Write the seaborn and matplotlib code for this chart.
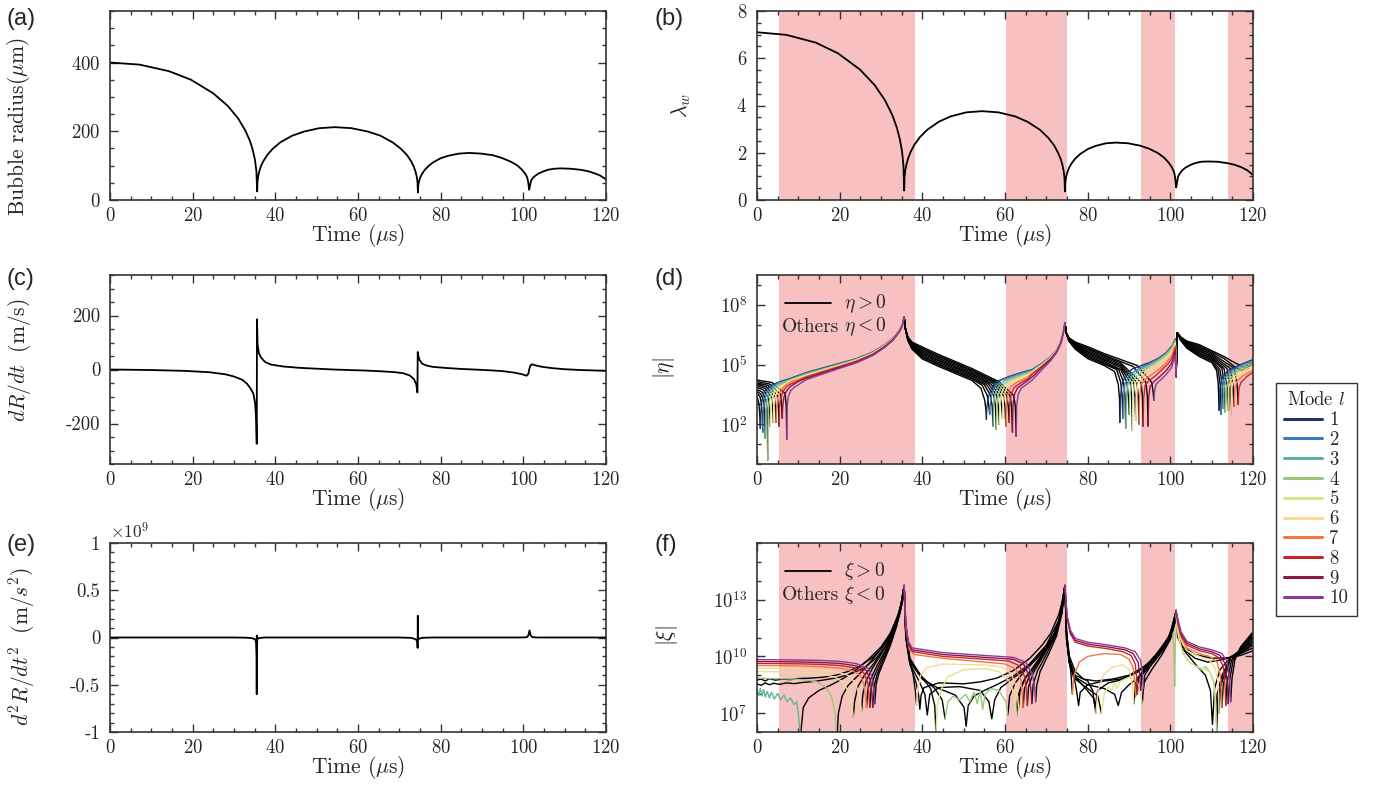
import pandas as pd
import matplotlib
matplotlib.use('Agg')
import matplotlib.pyplot as plt
from matplotlib.lines import Line2D
from matplotlib.ticker import MultipleLocator, NullFormatter
import seaborn as sns

# ---------------- data ----------------
# (a) bubble radius (um) and (b) lambda_w
t_R = [0, 7.12, 14.24, 19.58, 24.92, 28.48, 30.97, 32.75, 33.82, 34.53, 35.07, 35.42, 35.6,
       35.69, 35.88, 36.16, 36.54, 37.1, 38.04, 39.36, 41.24, 44.06, 46.88, 50.64, 54.4,
       58.42, 62.44, 65.46, 68.47, 70.48, 71.89, 72.89, 73.5, 73.9, 74.2, 74.4, 74.5,
       74.56, 74.69, 74.87, 75.12, 75.49, 76.11, 76.98, 78.22, 80.08, 81.94, 84.42, 86.9,
       89.8, 92.7, 94.88, 97.05, 98.5, 99.52, 100.24, 100.68, 100.97, 101.18, 101.33, 101.4,
       101.47, 101.56, 101.68, 101.82, 102.01, 102.39, 102.92, 103.68, 104.82, 105.96, 107.48, 109,
       111.4, 113.8, 115.6, 117.4, 118.6, 120]
R_um = [400, 394, 375, 350, 311, 274, 238, 202, 173, 146, 117, 84, 25,
        54, 71, 85, 99, 113, 131, 149, 168, 187, 199, 209, 212,
        209, 199, 187, 167, 148, 130, 112, 97, 83, 69, 52, 22,
        40, 50, 59, 67, 76, 87, 98, 110, 122, 129, 135, 137,
        135, 130, 122, 111, 101, 90, 80, 72, 64, 52, 38, 30,
        33, 38, 45, 54, 59, 65, 71, 77, 83, 88, 91, 92,
        91, 88, 84, 77, 71, 60]
lam_w = [7.10, 6.99, 6.66, 6.21, 5.52, 4.86, 4.22, 3.59, 3.07, 2.59, 2.08, 1.49, 0.40,
         0.97, 1.26, 1.51, 1.75, 2.01, 2.33, 2.65, 2.98, 3.32, 3.54, 3.71, 3.76,
         3.71, 3.54, 3.31, 2.97, 2.63, 2.31, 1.98, 1.72, 1.48, 1.22, 0.92, 0.36,
         0.71, 0.89, 1.05, 1.19, 1.36, 1.55, 1.75, 1.95, 2.16, 2.29, 2.40, 2.43,
         2.40, 2.30, 2.17, 1.98, 1.79, 1.60, 1.42, 1.27, 1.13, 0.92, 0.67, 0.53,
         0.59, 0.67, 0.80, 0.95, 1.04, 1.15, 1.26, 1.37, 1.48, 1.56, 1.62, 1.63,
         1.62, 1.56, 1.49, 1.37, 1.26, 1.06]

# (c) wall velocity (m/s)
t_v = [0, 10, 18, 24, 28, 30, 32, 33.1, 34.0, 34.7, 35.1, 35.35, 35.5,
       35.56, 35.7, 36.0, 36.5, 37.5, 39, 42, 46, 50, 54,
       58, 62, 66, 69, 71, 72.5, 73.5, 74.1, 74.38,
       74.45, 74.6, 74.9, 75.5, 76.5, 78, 81, 85, 88,
       92, 95, 98, 99.8, 100.8, 101.2, 101.5,
       101.8, 102.2, 103, 104.5, 107, 110, 114, 118, 120]
dRdt = [0, -2, -5, -10, -18, -26, -38, -52, -70, -90, -125, -180, -275,
        186, 95, 62, 45, 28, 18, 11, 6, 3, 0,
        -2, -4, -7, -10, -14, -22, -35, -55, -85,
        65, 50, 35, 22, 15, 10, 6, 2, 0,
        -3, -6, -12, -18, -23, -16, 5,
        17, 19, 15, 10, 5, 1, -2, -4, -5]

# (e) wall acceleration (x1e9 m/s^2)
t_acc = [0, 30, 33, 34.5, 35.1, 35.35, 35.47, 35.5, 35.53, 35.57, 35.6, 35.65, 35.8, 36.3, 37.5,
         70, 73, 74.0, 74.35, 74.42, 74.47, 74.52, 74.6, 74.9, 75.6, 78,
         99.5, 100.8, 101.2, 101.5, 101.8, 102.2, 103.5, 120]
acc_1e9 = [0, 0, -0.002, -0.008, -0.02, -0.05, -0.2, -0.6, 0.02, -0.42, -0.05, -0.02, -0.01, -0.004, 0,
           0, -0.004, -0.02, -0.04, -0.11, 0.23, -0.03, -0.02, -0.01, -0.003, 0,
           0, 0.003, 0.02, 0.075, 0.02, 0.003, 0, 0]

# shaded intervals (us)
span_start = [5.4, 60.3, 92.9, 114.0]
span_end = [38.2, 75.0, 101.1, 120.0]

mode_labels = ['1', '2', '3', '4', '5', '6', '7', '8', '9', '10']
mode_colors = ['#1c3668', '#3a7bbf', '#5cb592', '#9cc77a', '#dfe48c',
               '#fbd996', '#f2793b', '#c7262c', '#8b1745', '#8b3a9b']

# (d) log10|eta| per mode: runs alternate sign, first run eta>0
eta_first_sign = [1, 1, 1, 1, 1, 1, 1, 1, 1, 1]
eta_l1 = [
    [(0, 3.40), (0.45, 3.05), (0.68, 2.5), (0.8, 1.8)],
    [(0.92, 2.6), (1.2, 3.2), (1.8, 3.65), (3, 3.9), (5, 4.1), (8, 4.30), (12, 4.60), (16, 4.83), (20, 5.06), (24, 5.29), (28, 5.63), (31, 6.01), (33, 6.35), (34.5, 6.73), (35.2, 7.02), (35.6, 7.4)],
    [(35.9, 6.8), (36.5, 6.21), (37.5, 5.77), (40, 5.28), (44, 4.9), (48, 4.55), (52, 4.2), (54.2, 3.8), (55.1, 3.2), (55.4, 2.7), (55.5, 2.25)],
    [(55.6, 2.8), (55.9, 3.3), (56.6, 3.75), (58, 4.15), (61, 4.4), (64, 4.6), (66.6, 4.75), (69, 5.07), (71, 5.39), (72.5, 5.73), (73.5, 6.15), (74.1, 6.62), (74.5, 7.1)],
    [(74.8, 6.6), (75.5, 6.16), (77, 5.77), (80, 5.3), (84, 4.95), (86.5, 4.65), (87.4, 4.0), (87.7, 3.3), (87.8, 2.1)],
    [(87.9, 3.3), (88.3, 4.0), (89.2, 4.5), (91, 4.8), (95, 5.1), (97, 5.3), (99, 5.6), (100.5, 5.95), (101.2, 6.3), (101.4, 4.7)],
    [(101.7, 6.6), (102.5, 6.21), (104, 5.82), (107, 5.4), (110, 5.1), (111.2, 4.7), (111.6, 4.0), (111.8, 2.7)],
    [(112.0, 3.8), (112.5, 4.3), (114, 4.7), (117, 5.0), (120, 5.25)],
]
eta_l2 = [
    [(0, 3.55), (0.7, 3.4), (1.0, 3.1), (1.28, 2.55), (1.4, 1.6)],
    [(1.52, 2.6), (1.8, 3.2), (2.4, 3.6), (3.5, 3.85), (5, 4.07), (8, 4.27), (12, 4.57), (16, 4.80), (20, 5.03), (24, 5.27), (28, 5.61), (31, 6.0), (33, 6.34), (34.5, 6.72), (35.2, 7.01), (35.6, 7.4)],
    [(35.9, 6.8), (36.5, 6.23), (37.5, 5.81), (40, 5.35), (44, 4.97), (48, 4.62), (52, 4.27), (54.5, 3.95), (55.7, 3.45), (56.1, 2.9), (56.3, 2.5)],
    [(56.45, 3.0), (56.8, 3.5), (57.5, 3.9), (59, 4.2), (61.5, 4.4), (64, 4.57), (66.6, 4.72), (69, 5.05), (71, 5.37), (72.5, 5.72), (73.5, 6.14), (74.1, 6.62), (74.5, 7.1)],
    [(74.8, 6.6), (75.5, 6.18), (77, 5.81), (80, 5.37), (84, 5.02), (87, 4.75), (88.0, 4.1), (88.35, 3.4), (88.5, 2.3)],
    [(88.65, 3.3), (89.0, 4.0), (90, 4.45), (92, 4.75), (95, 5.05), (97, 5.27), (99, 5.57), (100.5, 5.92), (101.2, 6.25), (101.4, 4.7)],
    [(101.7, 6.6), (102.5, 6.23), (104, 5.86), (107, 5.47), (110, 5.17), (111.6, 4.7), (112.1, 3.9), (112.3, 2.5)],
    [(112.5, 3.8), (113, 4.3), (114.5, 4.65), (117, 4.95), (120, 5.2)],
]
eta_l3 = [
    [(0, 3.65), (1.0, 3.5), (1.6, 3.15), (1.88, 2.6), (2.0, 1.3)],
    [(2.12, 2.6), (2.4, 3.2), (3.0, 3.6), (4, 3.85), (5.5, 4.05), (8, 4.24), (12, 4.54), (16, 4.78), (20, 5.01), (24, 5.25), (28, 5.6), (31, 5.99), (33, 6.33), (34.5, 6.72), (35.2, 7.01), (35.6, 7.4)],
    [(35.9, 6.8), (36.5, 6.25), (37.5, 5.85), (40, 5.41), (44, 5.03), (48, 4.68), (52, 4.33), (55, 3.98), (56.5, 3.45), (56.9, 2.9), (57.1, 1.9)],
    [(57.25, 3.0), (57.6, 3.5), (58.3, 3.9), (60, 4.2), (62.5, 4.4), (64.5, 4.55), (66.6, 4.69), (69, 5.03), (71, 5.36), (72.5, 5.71), (73.5, 6.13), (74.1, 6.61), (74.5, 7.1)],
    [(74.8, 6.6), (75.5, 6.2), (77, 5.85), (80, 5.43), (84, 5.08), (87.5, 4.75), (88.7, 4.1), (89.05, 3.4), (89.2, 1.8)],
    [(89.35, 3.3), (89.7, 4.0), (90.7, 4.4), (92.5, 4.7), (95, 4.98), (97, 5.22), (99, 5.53), (100.5, 5.88), (101.2, 6.2), (101.4, 4.65)],
    [(101.7, 6.6), (102.5, 6.25), (104, 5.9), (107, 5.53), (110, 5.23), (112, 4.75), (112.6, 3.9), (112.8, 2.8)],
    [(113, 3.8), (113.5, 4.25), (115, 4.6), (117.5, 4.9), (120, 5.15)],
]
eta_l4 = [
    [(0, 3.75), (1.3, 3.6), (2.2, 3.2), (2.48, 2.6), (2.6, 0.2)],
    [(2.72, 2.6), (3.0, 3.2), (3.6, 3.6), (4.6, 3.85), (6, 4.02), (8, 4.21), (12, 4.51), (16, 4.75), (20, 4.99), (24, 5.24), (28, 5.58), (31, 5.97), (33, 6.32), (34.5, 6.71), (35.2, 7.01), (35.6, 7.4)],
    [(35.9, 6.8), (36.5, 6.27), (37.5, 5.89), (40, 5.48), (44, 5.1), (48, 4.75), (52, 4.4), (55.5, 4.0), (57.3, 3.45), (57.7, 2.9), (57.9, 1.75)],
    [(58.05, 3.0), (58.4, 3.5), (59.1, 3.9), (60.8, 4.2), (63, 4.38), (65, 4.52), (66.6, 4.66), (69, 5.01), (71, 5.35), (72.5, 5.7), (73.5, 6.12), (74.1, 6.61), (74.5, 7.1)],
    [(74.8, 6.6), (75.5, 6.22), (77, 5.89), (80, 5.5), (84, 5.15), (88, 4.75), (89.5, 4.1), (89.85, 3.4), (90.0, 2.5)],
    [(90.15, 3.3), (90.5, 4.0), (91.5, 4.35), (93, 4.62), (95, 4.9), (97, 5.17), (99, 5.48), (100.5, 5.83), (101.2, 6.15), (101.4, 4.6)],
    [(101.7, 6.6), (102.5, 6.27), (104, 5.94), (107, 5.6), (110, 5.3), (112.5, 4.8), (113.1, 3.9), (113.3, 2.6)],
    [(113.5, 3.8), (114, 4.2), (115.5, 4.55), (118, 4.85), (120, 5.05)],
]
eta_l5 = [
    [(0, 3.85), (1.6, 3.72), (2.8, 3.3), (3.08, 2.7), (3.2, 1.9)],
    [(3.32, 2.7), (3.6, 3.25), (4.2, 3.62), (5.2, 3.85), (6.5, 4.0), (8, 4.18), (12, 4.48), (16, 4.73), (20, 4.97), (24, 5.22), (28, 5.57), (31, 5.96), (33, 6.31), (34.5, 6.71), (35.2, 7.0), (35.6, 7.4)],
    [(35.9, 6.8), (36.5, 6.29), (37.5, 5.93), (40, 5.55), (44, 5.17), (48, 4.82), (52, 4.47), (56, 4.03), (58.0, 3.45), (58.4, 2.9), (58.6, 2.0)],
    [(58.75, 3.0), (59.1, 3.5), (59.8, 3.9), (61.5, 4.17), (63.5, 4.34), (65.5, 4.5), (66.6, 4.63), (69, 4.99), (71, 5.33), (72.5, 5.69), (73.5, 6.11), (74.1, 6.6), (74.5, 7.1)],
    [(74.8, 6.6), (75.5, 6.24), (77, 5.93), (80, 5.57), (84, 5.22), (88, 4.85), (90.3, 4.1), (90.65, 3.4), (90.8, 1.7)],
    [(90.95, 3.3), (91.3, 4.0), (92.3, 4.3), (94, 4.57), (96, 4.85), (98, 5.15), (99.5, 5.45), (100.7, 5.8), (101.2, 6.1), (101.4, 4.6)],
    [(101.7, 6.6), (102.5, 6.29), (104, 5.98), (107, 5.67), (110, 5.37), (113, 4.8), (113.7, 3.9), (113.9, 2.7)],
    [(114.1, 3.8), (114.6, 4.2), (116, 4.5), (118.5, 4.8), (120, 4.95)],
]
eta_l6 = [
    [(0, 3.93), (2.0, 3.8), (3.5, 3.35), (3.78, 2.8), (3.9, 2.1)],
    [(4.02, 2.8), (4.3, 3.3), (4.9, 3.65), (5.9, 3.87), (8, 4.15), (12, 4.45), (16, 4.70), (20, 4.95), (24, 5.20), (28, 5.55), (31, 5.95), (33, 6.30), (34.5, 6.70), (35.2, 7.0), (35.6, 7.4)],
    [(35.9, 6.8), (36.5, 6.31), (37.5, 5.97), (40, 5.61), (44, 5.23), (48, 4.88), (52, 4.53), (56.5, 4.05), (58.8, 3.45), (59.2, 2.9), (59.4, 2.3)],
    [(59.55, 3.0), (59.9, 3.5), (60.6, 3.9), (62.3, 4.15), (64.3, 4.32), (66.6, 4.6), (69, 4.97), (71, 5.31), (72.5, 5.68), (73.5, 6.1), (74.1, 6.6), (74.5, 7.1)],
    [(74.8, 6.6), (75.5, 6.26), (77, 5.97), (80, 5.63), (84, 5.28), (88, 4.92), (91.1, 4.1), (91.45, 3.4), (91.6, 2.2)],
    [(91.75, 3.3), (92.1, 4.0), (93.1, 4.28), (95, 4.55), (97, 4.85), (98.8, 5.15), (100.2, 5.5), (101.2, 6.05), (101.4, 4.55)],
    [(101.7, 6.6), (102.5, 6.31), (104, 6.02), (107, 5.73), (110, 5.43), (113.7, 4.8), (114.4, 3.9), (114.6, 2.5)],
    [(114.8, 3.8), (115.3, 4.2), (116.8, 4.5), (119, 4.75), (120, 4.85)],
]
eta_l7 = [
    [(0, 4.00), (2.3, 3.88), (4.2, 3.4), (4.48, 2.8), (4.6, 2.1)],
    [(4.72, 2.8), (5.0, 3.3), (5.6, 3.65), (6.6, 3.9), (8, 4.11), (12, 4.41), (16, 4.67), (20, 4.92), (24, 5.18), (28, 5.53), (31, 5.93), (33, 6.29), (34.5, 6.69), (35.2, 7.0), (35.6, 7.4)],
    [(35.9, 6.8), (36.5, 6.33), (37.5, 6.01), (40, 5.68), (44, 5.3), (48, 4.95), (52, 4.6), (57, 4.08), (59.6, 3.45), (60.0, 2.9), (60.2, 1.9)],
    [(60.35, 3.0), (60.7, 3.5), (61.4, 3.9), (63, 4.12), (65, 4.3), (66.6, 4.56), (69, 4.94), (71, 5.29), (72.5, 5.66), (73.5, 6.09), (74.1, 6.59), (74.5, 7.1)],
    [(74.8, 6.6), (75.5, 6.28), (77, 6.01), (80, 5.7), (84, 5.35), (88, 5.0), (91.9, 4.1), (92.25, 3.4), (92.4, 2.0)],
    [(92.55, 3.3), (92.9, 4.0), (93.9, 4.25), (95.5, 4.5), (97.5, 4.8), (99, 5.1), (100.3, 5.45), (101.2, 5.95), (101.4, 4.5)],
    [(101.7, 6.6), (102.5, 6.33), (104, 6.06), (107, 5.8), (110, 5.5), (114.5, 4.8), (115.2, 3.9), (115.4, 2.9)],
    [(115.6, 3.8), (116.1, 4.15), (117.6, 4.45), (120, 4.7)],
]
eta_l8 = [
    [(0, 4.07), (2.7, 3.95), (4.9, 3.45), (5.18, 2.85), (5.3, 1.9)],
    [(5.42, 2.85), (5.7, 3.3), (6.3, 3.65), (7.2, 3.9), (8, 4.0), (12, 4.37), (16, 4.63), (20, 4.89), (24, 5.15), (28, 5.51), (31, 5.92), (33, 6.28), (34.5, 6.68), (35.2, 6.99), (35.6, 7.4)],
    [(35.9, 6.8), (36.5, 6.35), (37.5, 6.05), (40, 5.75), (44, 5.37), (48, 5.02), (52, 4.67), (57.5, 4.1), (60.4, 3.45), (60.8, 2.9), (61.0, 2.1)],
    [(61.15, 3.0), (61.5, 3.5), (62.2, 3.85), (63.8, 4.08), (65.5, 4.27), (66.6, 4.52), (69, 4.91), (71, 5.27), (72.5, 5.65), (73.5, 6.08), (74.1, 6.58), (74.5, 7.1)],
    [(74.8, 6.6), (75.5, 6.3), (77, 6.05), (80, 5.77), (84, 5.42), (88, 5.08), (92.9, 4.1), (93.25, 3.4), (93.4, 1.9)],
    [(93.55, 3.3), (93.9, 3.95), (94.9, 4.2), (96.5, 4.45), (98, 4.75), (99.5, 5.05), (100.5, 5.35), (101.2, 5.85), (101.4, 4.5)],
    [(101.7, 6.6), (102.5, 6.35), (104, 6.1), (107, 5.87), (110, 5.57), (115.5, 4.8), (116.2, 3.9), (116.4, 3.0)],
    [(116.6, 3.8), (117.1, 4.1), (118.5, 4.4), (120, 4.6)],
]
eta_l9 = [
    [(0, 4.14), (3.1, 4.02), (5.7, 3.5), (5.98, 2.9), (6.1, 2.3)],
    [(6.22, 2.9), (6.5, 3.35), (7.1, 3.65), (8, 3.88), (10, 4.15), (12, 4.32), (16, 4.59), (20, 4.86), (24, 5.12), (28, 5.49), (31, 5.9), (33, 6.26), (34.5, 6.67), (35.2, 6.99), (35.6, 7.4)],
    [(35.9, 6.8), (36.5, 6.37), (37.5, 6.09), (40, 5.81), (44, 5.43), (48, 5.08), (52, 4.73), (58, 4.12), (61.2, 3.45), (61.6, 2.9), (61.8, 1.6)],
    [(61.95, 3.0), (62.3, 3.5), (63, 3.82), (64.5, 4.05), (66, 4.28), (67, 4.45), (69, 4.87), (71, 5.24), (72.5, 5.63), (73.5, 6.07), (74.1, 6.58), (74.5, 7.1)],
    [(74.8, 6.6), (75.5, 6.32), (77, 6.09), (80, 5.83), (84, 5.48), (88, 5.15), (91, 4.9), (94.1, 4.1), (94.45, 3.4), (94.6, 1.9)],
    [(94.75, 3.3), (95.1, 3.9), (96.1, 4.15), (97.5, 4.4), (99, 4.7), (100.3, 5.05), (101.2, 5.7), (101.4, 4.45)],
    [(101.7, 6.6), (102.5, 6.37), (104, 6.14), (107, 5.93), (110, 5.63), (113, 5.3), (115.5, 4.9), (117.5, 4.7), (119, 4.85), (120, 5.2)],
]
eta_l10 = [
    [(0, 4.22), (3.6, 4.1), (6.8, 3.55), (7.08, 2.95), (7.2, 1.25)],
    [(7.32, 2.95), (7.6, 3.4), (8.2, 3.7), (9, 3.85), (12, 4.25), (16, 4.53), (20, 4.81), (24, 5.08), (28, 5.45), (31, 5.87), (33, 6.24), (34.5, 6.66), (35.2, 6.98), (35.6, 7.4)],
    [(35.9, 6.8), (36.5, 6.39), (37.5, 6.13), (40, 5.88), (44, 5.5), (48, 5.15), (52, 4.8), (58.5, 4.14), (62.1, 3.45), (62.5, 2.9), (62.7, 1.4)],
    [(62.85, 3.0), (63.2, 3.5), (63.9, 3.8), (65.2, 4.0), (66.6, 4.22), (69, 4.75), (71, 5.18), (72.5, 5.6), (73.5, 6.05), (74.1, 6.57), (74.5, 7.1)],
    [(74.8, 6.6), (75.5, 6.34), (77, 6.13), (80, 5.9), (84, 5.55), (88, 5.25), (92, 4.95), (95.5, 4.1), (95.85, 3.6), (96.0, 3.2)],
    [(96.15, 3.6), (96.5, 4.0), (97.5, 4.2), (99, 4.5), (100.3, 4.85), (101.2, 5.45), (101.4, 4.35)],
    [(101.7, 6.6), (102.5, 6.39), (104, 6.18), (107, 6.0), (110, 5.7), (113, 5.4), (115.5, 5.1), (118, 4.85), (119.3, 4.95), (120, 5.1)],
]

# (f) log10|xi| per mode: runs alternate sign, first sign listed
xi_first_sign = [1, 1, -1, -1, -1, -1, -1, -1, -1, -1]
xi_l1 = [
    [(0, 8.55), (1, 8.47), (2, 8.6), (3, 8.5), (4, 8.58), (5.5, 8.52), (7, 8.6), (9, 8.56), (11, 8.62), (14, 8.68), (17, 8.78), (20, 8.9), (23, 9.1), (26, 9.4), (29, 9.95), (31, 10.5), (33, 11.3), (34.5, 12.2), (35.2, 12.9), (35.6, 13.75),
     (36, 11.0), (37, 9.6), (38.5, 8.6), (39.1, 7.95), (39.4, 7.2), (39.7, 7.95), (40.4, 8.35), (44, 8.6), (50, 8.55), (54, 8.65), (58, 8.85), (62, 9.25), (66, 9.9), (69, 10.6), (71, 11.2), (73, 12.2), (74, 13.0), (74.5, 13.75),
     (74.9, 11.2), (75.6, 10.0), (77, 9.2), (79, 8.8), (82, 8.7), (86, 8.8), (90, 9.0), (94, 9.5), (97, 10.2), (99.5, 11.0), (101, 11.8), (101.4, 12.1),
     (101.8, 11.0), (103, 10.5), (106, 10.1), (110, 9.9), (113, 9.92), (114.6, 9.95), (117, 10.05), (120, 10.3)],
]
xi_l2 = [
    [(0, 8.75), (1, 8.8), (2, 8.7), (3, 8.82), (4.5, 8.74), (6, 8.8), (8, 8.77), (10, 8.83), (13, 8.85), (16, 8.9), (19, 9.0), (22, 9.2), (25, 9.5), (28, 9.95), (30.5, 10.5), (32.5, 11.2), (34.3, 12.2), (35.1, 12.9), (35.6, 13.75),
     (36, 11.0), (37, 9.6), (39.2, 8.7), (40.6, 8.0), (41.2, 6.9), (41.8, 8.0), (44, 8.35), (49, 8.4), (54, 8.2), (56.1, 7.6), (56.8, 6.7), (57.5, 7.7), (59, 8.35), (62, 8.85), (66, 9.5), (69.5, 10.3), (72.5, 11.3), (73.8, 12.4), (74.5, 13.75),
     (74.9, 10.9), (75.6, 9.7), (77, 9.0), (80, 8.7), (81.2, 8.2), (81.8, 7.3), (82.4, 8.2), (85, 8.6), (88, 8.75), (92, 9.15), (95, 9.65), (98, 10.35), (100.3, 11.15), (101.4, 11.95),
     (101.8, 11.1), (103, 10.4), (106, 9.9), (109, 9.7), (112, 9.8), (114.6, 9.95), (117, 10.15), (120, 10.45)],
]
xi_l3 = [
    [(0, 8.2), (0.4, 7.95), (0.8, 8.3), (1.2, 7.9), (1.6, 8.25), (2.0, 7.85), (2.5, 8.15), (3.0, 7.8), (3.5, 8.1), (4.2, 7.75), (5, 8.05), (5.7, 7.7), (6.5, 7.95), (7.3, 7.6), (8.1, 7.8), (9.0, 7.45), (9.6, 7.6), (10.0, 7.0), (10.3, 6.2), (10.5, 5.5)],
    [(10.7, 6.2), (11.2, 7.3), (12.5, 7.8), (15, 8.2), (18, 8.5), (21, 8.85), (24, 9.3), (27, 9.85), (30, 10.5), (32.5, 11.3), (34.3, 12.3), (35.1, 12.95), (35.6, 13.75),
     (36, 11.1), (37, 9.7), (40, 8.8), (44, 8.3), (48, 7.95), (50.1, 7.3), (50.6, 6.3), (51.1, 7.4), (52.5, 7.9), (55, 8.2), (58, 8.5), (62, 8.95), (66, 9.6), (69.5, 10.4), (72.5, 11.4), (73.8, 12.5), (74.5, 13.75),
     (74.9, 10.9), (75.6, 9.6), (77, 8.6), (77.5, 7.9), (77.8, 7.4), (78.2, 8.1), (80, 8.5), (84, 8.7), (88, 8.8), (92, 9.2), (95, 9.7), (98, 10.4), (100.3, 11.2), (101.4, 12.0),
     (101.8, 11.2), (103, 10.4), (106, 9.6), (108.5, 9.0), (109.7, 8.2), (110.2, 6.4), (110.7, 8.3), (112, 9.3), (114.6, 9.95), (117, 10.15), (120, 10.6)],
]
xi_l4 = [
    [(0, 8.85), (3, 8.83), (6, 8.82), (9, 8.8), (12, 8.75), (14.5, 8.65), (16.5, 8.4), (18.0, 7.9), (18.9, 7.0), (19.3, 5.5)],
    [(19.7, 7.0), (20.6, 7.9), (22, 8.45), (24.5, 9.0), (27, 9.6), (29.5, 10.25), (32, 11.1), (34, 12.1), (35, 12.9), (35.6, 13.75), (36.0, 11.2), (37, 9.8), (40, 8.9), (43, 8.3), (44.8, 7.7), (45.5, 6.7)],
    [(46.2, 7.6), (47.5, 7.9), (49, 7.7), (50.5, 8.0), (51.5, 7.6), (52.5, 8.1), (53.3, 7.5), (54, 8.2), (54.6, 7.2), (55.2, 8.0), (56.5, 8.3), (58.5, 8.2), (60.2, 7.6), (60.7, 6.9)],
    [(61.1, 7.9), (62.5, 8.6), (66, 9.6), (70, 10.6), (73, 11.9), (74.5, 13.75), (74.9, 11.0), (75.5, 9.7), (77, 8.9), (80, 8.5), (84, 8.3), (86.5, 8.0), (87.4, 7.4), (88.2, 8.1), (90, 8.5), (93, 9.0), (96, 9.7), (98.5, 10.4), (100.6, 11.2)],
    [(100.9, 10.0), (101.05, 8.4), (101.2, 10.6), (101.5, 11.9), (102, 11.0), (103, 10.2), (104.5, 9.7), (106, 9.5), (107.5, 9.3), (108.5, 9.45), (109.5, 9.2), (110.5, 8.7), (111.0, 7.5), (111.2, 6.0)],
    [(111.5, 7.8), (112.8, 9.0), (114.6, 9.97), (117, 10.2), (120, 10.7)],
]
xi_l5 = [
    [(0, 9.2), (4, 9.19), (8, 9.17), (12, 9.13), (16, 9.05), (19, 8.9), (21, 8.6), (22.4, 8.0), (23.0, 7.3), (23.3, 6.8)],
    [(23.6, 7.6), (24.4, 8.4), (26, 9.0), (28.5, 9.7), (31, 10.5), (33, 11.3), (34.5, 12.3), (35.6, 13.75), (36.0, 11.3), (37, 9.9), (39.5, 9.0), (42, 8.3), (43.0, 7.4), (43.3, 6.0)],
    [(43.6, 7.4), (44.5, 8.2), (46, 8.9), (50, 9.3), (55, 9.35), (58.5, 9.2), (61, 8.7), (62.2, 8.0), (62.6, 7.3), (62.8, 6.9)],
    [(63.1, 7.9), (64.5, 8.7), (68, 9.8), (71.2, 10.8), (73.3, 12.0), (74.5, 13.75), (74.9, 11.1), (75.5, 9.8), (77, 8.8), (80, 8.3), (82.5, 7.9), (83.3, 7.0)],
    [(84, 8.0), (85, 8.4), (85.8, 8.2), (86.5, 8.6), (87, 8.3), (88, 8.7), (90, 8.9), (91.5, 8.8), (92.5, 8.4), (93.2, 7.5)],
    [(93.6, 8.6), (95.5, 9.3), (98, 10.1), (100, 10.9), (101.4, 12.1)],
    [(101.9, 11.2), (102.6, 10.5), (104, 9.8), (106, 9.5), (108, 9.35), (109.5, 9.2), (110.5, 8.6), (110.9, 7.8), (111.0, 6.6)],
    [(111.3, 8.0), (112.5, 9.0), (114.6, 9.97), (117, 10.25), (120, 10.8)],
]
xi_l6 = [
    [(0, 9.38), (5, 9.37), (10, 9.35), (15, 9.3), (19, 9.2), (22, 9.0), (23.8, 8.6), (24.8, 7.9), (25.1, 7.4), (25.3, 7.1)],
    [(25.6, 8.0), (26.4, 8.7), (28, 9.4), (30, 10.1), (32, 10.9), (34, 12.0), (35.1, 12.9), (35.6, 13.75), (36.0, 11.4), (36.8, 10.0), (37.8, 9.0), (38.3, 8.2), (38.6, 7.4)],
    [(38.9, 8.3), (39.6, 9.0), (41, 9.4), (45, 9.6), (55, 9.55), (59, 9.45), (61.5, 9.1), (62.7, 8.4), (63.1, 7.7), (63.3, 7.3)],
    [(63.6, 8.2), (65, 8.9), (68.5, 9.9), (71.5, 10.9), (73.4, 12.1), (74.5, 13.75), (74.9, 11.2), (75.5, 9.9), (77, 8.9), (79.5, 8.3), (81.4, 7.8), (82.0, 7.0)],
    [(82.5, 8.2), (83.8, 9.0), (86, 9.45), (88.5, 9.55), (90, 9.3), (90.8, 8.5), (91.2, 7.5)],
    [(91.6, 8.6), (93.5, 9.3), (96.5, 10.1), (99.5, 10.95), (101.4, 12.2)],
    [(101.9, 11.5), (102.6, 10.9), (104, 10.3), (107, 10.0), (109.5, 9.8), (110.8, 9.4), (111.6, 8.6), (111.8, 7.0)],
    [(112.1, 8.4), (114.6, 9.95), (117, 10.3), (120, 10.9)],
]
xi_l7 = [
    [(0, 9.52), (5, 9.51), (10, 9.5), (15, 9.46), (20, 9.38), (23, 9.25), (25, 9.0), (25.9, 8.5), (26.3, 7.8), (26.5, 7.3)],
    [(26.8, 8.2), (27.5, 8.8), (29, 9.5), (31, 10.3), (33, 11.3), (34.5, 12.3), (35.6, 13.75)],
    [(36.0, 11.5), (36.8, 10.4), (38, 10.1), (45, 9.9), (55, 9.7), (60, 9.6), (62.5, 9.35), (63.8, 8.8), (64.2, 8.0), (64.4, 7.3)],
    [(64.7, 8.3), (66, 9.0), (69, 10.0), (71.8, 11.0), (73.5, 12.2), (74.5, 13.75), (74.9, 11.3), (75.5, 10.0), (76.0, 9.0), (76.3, 8.0)],
    [(76.7, 9.0), (78, 9.7), (80, 10.0), (84, 10.15), (88, 10.1), (90, 9.85), (91, 9.4), (91.4, 8.6), (91.6, 7.9)],
    [(91.9, 8.8), (94, 9.4), (97, 10.2), (99.8, 11.0), (101.4, 12.3)],
    [(101.9, 11.6), (102.6, 11.0), (104, 10.45), (107, 10.15), (109.5, 10.0), (111.3, 9.7), (112.1, 9.0), (112.4, 7.9), (112.5, 7.3)],
    [(112.8, 8.5), (114.6, 9.95), (117, 10.35), (120, 11.0)],
]
xi_l8 = [
    [(0, 9.63), (5, 9.62), (10, 9.61), (15, 9.58), (20, 9.52), (23.5, 9.4), (25.8, 9.15), (26.8, 8.6), (27.15, 7.8), (27.3, 7.3)],
    [(27.6, 8.3), (28.3, 8.9), (29.7, 9.6), (31.5, 10.45), (33.2, 11.4), (34.6, 12.4), (35.6, 13.75)],
    [(36.0, 11.6), (36.7, 10.6), (37.6, 10.25), (45, 10.0), (55, 9.85), (61, 9.75), (63.5, 9.5), (64.8, 8.9), (65.2, 8.1), (65.4, 7.4)],
    [(65.7, 8.4), (66.8, 9.1), (69.5, 10.1), (72, 11.1), (73.6, 12.3), (74.5, 13.75)],
    [(75.0, 12.0), (75.8, 11.2), (77, 10.75), (80, 10.55), (85, 10.4), (88.5, 10.25), (90.5, 10.05), (91.5, 9.6), (91.85, 8.9), (92.0, 8.0)],
    [(92.3, 8.9), (94.5, 9.5), (97.5, 10.3), (100, 11.1), (101.4, 12.35)],
    [(101.9, 11.7), (102.6, 11.1), (104, 10.6), (107, 10.3), (110, 10.15), (111.6, 9.95), (112.8, 9.5), (113.25, 8.4), (113.4, 7.4)],
    [(113.7, 8.6), (114.8, 9.8), (117, 10.4), (120, 11.1)],
]
xi_l9 = [
    [(0, 9.73), (5, 9.72), (10, 9.71), (15, 9.68), (20, 9.63), (24, 9.5), (26.5, 9.25), (27.5, 8.7), (27.85, 7.9), (28.0, 7.3)],
    [(28.3, 8.4), (29, 9.0), (30.3, 9.7), (32, 10.55), (33.5, 11.5), (34.7, 12.5), (35.6, 13.75)],
    [(36.0, 11.7), (36.6, 10.7), (37.5, 10.35), (45, 10.1), (55, 9.95), (62, 9.85), (64.5, 9.6), (65.8, 9.0), (66.3, 8.2), (66.5, 7.5)],
    [(66.8, 8.5), (67.8, 9.2), (70, 10.1), (72.2, 11.1), (73.7, 12.3), (74.5, 13.75)],
    [(75.0, 12.1), (75.8, 11.3), (77, 10.85), (80, 10.65), (85, 10.5), (89, 10.35), (91, 10.15), (92.2, 9.7), (92.6, 9.0), (92.8, 8.2)],
    [(93.1, 9.0), (95, 9.6), (97.8, 10.35), (100, 11.15), (101.4, 12.4)],
    [(101.9, 11.8), (102.6, 11.2), (104, 10.7), (107, 10.4), (110, 10.25), (112, 10.05), (113.3, 9.6), (113.8, 8.5), (114.0, 7.5)],
    [(114.3, 8.7), (115.2, 9.8), (117, 10.45), (120, 11.2)],
]
xi_l10 = [
    [(0, 9.83), (5, 9.82), (10, 9.81), (15, 9.79), (20, 9.74), (24, 9.62), (27, 9.35), (28, 8.8), (28.35, 8.0), (28.5, 7.5)],
    [(28.8, 8.5), (29.5, 9.1), (30.8, 9.8), (32.3, 10.6), (33.8, 11.6), (34.9, 12.6), (35.6, 13.75)],
    [(36.0, 11.8), (36.6, 10.8), (37.5, 10.45), (45, 10.2), (55, 10.05), (62, 9.95), (65, 9.7), (66.7, 9.0), (67.2, 8.3), (67.4, 7.6)],
    [(67.7, 8.5), (68.5, 9.2), (70.5, 10.1), (72.5, 11.1), (73.8, 12.3), (74.5, 13.75)],
    [(75.0, 12.2), (75.8, 11.4), (77, 10.95), (80, 10.75), (85, 10.6), (89, 10.45), (91.5, 10.25), (92.8, 9.8), (93.3, 9.0), (93.5, 8.3)],
    [(93.8, 9.0), (95.5, 9.6), (98, 10.4), (100, 11.2), (101.4, 12.45)],
    [(101.9, 11.9), (102.6, 11.3), (104, 10.8), (107, 10.5), (110, 10.35), (112.5, 10.15), (113.8, 9.7), (114.4, 8.6), (114.6, 7.6)],
    [(114.9, 8.8), (115.6, 9.8), (117, 10.5), (120, 11.3)],
]

eta_modes = [eta_l1, eta_l2, eta_l3, eta_l4, eta_l5, eta_l6, eta_l7, eta_l8, eta_l9, eta_l10]
xi_modes = [xi_l1, xi_l2, xi_l3, xi_l4, xi_l5, xi_l6, xi_l7, xi_l8, xi_l9, xi_l10]


def mode_frame(modes, first_sign):
    # one row per knot; each sign run is its own unit, joined to the previous run's last knot
    rows = []
    seg = 0
    for label, runs, s in zip(mode_labels, modes, first_sign):
        prev_end = None
        for run in runs:
            pts = ([prev_end] if prev_end else []) + run
            key = 'pos' if s > 0 else label
            for t, v in pts:
                rows.append((t, 10.0 ** v, seg, key))
            prev_end = run[-1]
            s = -s
            seg += 1
    return pd.DataFrame(rows, columns=['t', 'val', 'seg', 'key'])


# ---------------- style ----------------
sns.set_style('ticks')
plt.rcParams['font.family'] = ['cmr10', 'DejaVu Serif']
plt.rcParams['mathtext.fontset'] = 'cm'
plt.rcParams['axes.formatter.use_mathtext'] = True
plt.rcParams['axes.unicode_minus'] = False

W, H = 1383, 790
FS = 13.5     # tick labels
LFS = 15.5    # axis labels
SPAN = '#f7c1c1'
palette = {'pos': 'black'}
palette.update(dict(zip(mode_labels, mode_colors)))
hue_order = ['pos'] + mode_labels

fig = plt.figure(figsize=(W / 100, H / 100), dpi=100)


def new_axes(x0, top):
    return fig.add_axes([x0 / W, 1 - (top + 189) / H, 496 / W, 189 / H])


def style(ax, ylab, ylab_x, ylab_y=0.5):
    ax.set_xlim(0, 120)
    ax.xaxis.set_major_locator(MultipleLocator(20))
    ax.xaxis.set_minor_locator(MultipleLocator(5))
    ax.tick_params(which='both', direction='in', top=True, right=True,
                   labelsize=FS, width=1.0, color='#333333')
    ax.tick_params(which='major', length=6, pad=5)
    ax.tick_params(which='minor', length=3)
    ax.tick_params(axis='y', which='major', pad=7)
    for sp in ax.spines.values():
        sp.set_linewidth(1.2)
        sp.set_color('#333333')
    ax.set_xlabel(r'Time ($\mu$s)', fontsize=LFS)
    ax.xaxis.set_label_coords(0.5, -0.118)
    ax.set_ylabel(ylab, fontsize=LFS)
    ax.yaxis.set_label_coords(ylab_x, ylab_y)


def shade(ax):
    for s, e in zip(span_start, span_end):
        ax.axvspan(s, e, color=SPAN, lw=0, zorder=0)


ax_a = new_axes(110, 11)
ax_b = new_axes(757, 11)
ax_c = new_axes(110, 275)
ax_d = new_axes(757, 275)
ax_e = new_axes(110, 543)
ax_f = new_axes(757, 543)

# (a)
sns.lineplot(x=t_R, y=R_um, ax=ax_a, color='black', lw=1.3, estimator=None, sort=False)
ax_a.set_ylim(0, 550)
ax_a.yaxis.set_major_locator(MultipleLocator(200))
ax_a.yaxis.set_minor_locator(MultipleLocator(50))
style(ax_a, r'Bubble radius$(\mu$m$)$', -0.157, 0.39)

# (b)
shade(ax_b)
sns.lineplot(x=t_R, y=lam_w, ax=ax_b, color='black', lw=1.3, estimator=None, sort=False)
ax_b.set_ylim(0, 8)
ax_b.yaxis.set_major_locator(MultipleLocator(2))
ax_b.yaxis.set_minor_locator(MultipleLocator(0.5))
style(ax_b, r'$\lambda_w$', -0.13)

# (c)
sns.lineplot(x=t_v, y=dRdt, ax=ax_c, color='black', lw=1.3, estimator=None, sort=False)
ax_c.set_ylim(-350, 350)
ax_c.set_yticks([-200, 0, 200], labels=['-200', '0', '200'])
ax_c.yaxis.set_minor_locator(MultipleLocator(50))
style(ax_c, r'$dR/dt\ \ (\mathrm{m/s})$', -0.155, 0.55)

# (e)
sns.lineplot(x=t_acc, y=acc_1e9, ax=ax_e, color='black', lw=1.3, estimator=None, sort=False)
ax_e.set_ylim(-1, 1)
ax_e.set_yticks([-1, -0.5, 0, 0.5, 1], labels=['-1', '-0.5', '0', '0.5', '1'])
ax_e.yaxis.set_minor_locator(MultipleLocator(0.1))
style(ax_e, r'$d^2R/dt^2\ \ (\mathrm{m}/s^2)$', -0.147, 0.45)
ax_e.text(0.0, 1.01, r'$\times10^{9}$', transform=ax_e.transAxes, fontsize=FS - 1,
          ha='left', va='bottom')

# (d) and (f)
for ax, modes, first, lo, hi, major, sym, ylab_x in [
        (ax_d, eta_modes, eta_first_sign, 0, 9.5, [2, 5, 8], r'\eta', -0.161),
        (ax_f, xi_modes, xi_first_sign, 6, 16, [7, 10, 13], r'\xi', -0.155)]:
    shade(ax)
    df = mode_frame(modes, first)
    sns.lineplot(data=df, x='t', y='val', hue='key', units='seg', estimator=None,
                 sort=False, palette=palette, hue_order=hue_order, legend=False,
                 lw=1.0, ax=ax)
    ax.set_yscale('log')
    ax.set_ylim(10.0 ** lo, 10.0 ** hi)
    ax.set_yticks([10.0 ** k for k in major], labels=['$10^{%d}$' % k for k in major])
    ax.set_yticks([10.0 ** k for k in range(lo, int(hi) + 1) if k not in major], minor=True)
    ax.yaxis.set_minor_formatter(NullFormatter())
    style(ax, r'$|%s|$' % sym, ylab_x, 0.51)
    ax.plot([0.057, 0.15], [0.85, 0.85], transform=ax.transAxes, color='black', lw=1.3)
    ax.text(0.175, 0.85, r'$%s>0$' % sym, transform=ax.transAxes, fontsize=FS + 0.5, va='center')
    ax.text(0.05, 0.725, 'Others', transform=ax.transAxes, fontsize=FS + 0.5, va='center')
    ax.text(0.175, 0.725, r'$%s<0$' % sym, transform=ax.transAxes, fontsize=FS + 0.5, va='center')

# panel letters
for lab, x, y in [('(a)', 7, 8), ('(b)', 654, 8), ('(c)', 7, 268),
                  ('(d)', 654, 268), ('(e)', 7, 534), ('(f)', 654, 534)]:
    fig.text(x / W, 1 - y / H, lab, family='Liberation Sans', fontsize=17,
             ha='left', va='top')

# mode legend
handles = [Line2D([], [], color=c, lw=2.2) for c in mode_colors]
leg = fig.legend(handles, mode_labels, title='Mode $l$', loc='upper left',
                 bbox_to_anchor=(1276 / W, 1 - 383 / H), borderaxespad=0,
                 frameon=True, fancybox=False, edgecolor='black', fontsize=FS,
                 title_fontsize=FS, handlelength=2.0, labelspacing=0.1,
                 borderpad=0.45, handletextpad=0.4)
leg.get_frame().set_linewidth(1.0)

fig.savefig('out.png', dpi=100)
